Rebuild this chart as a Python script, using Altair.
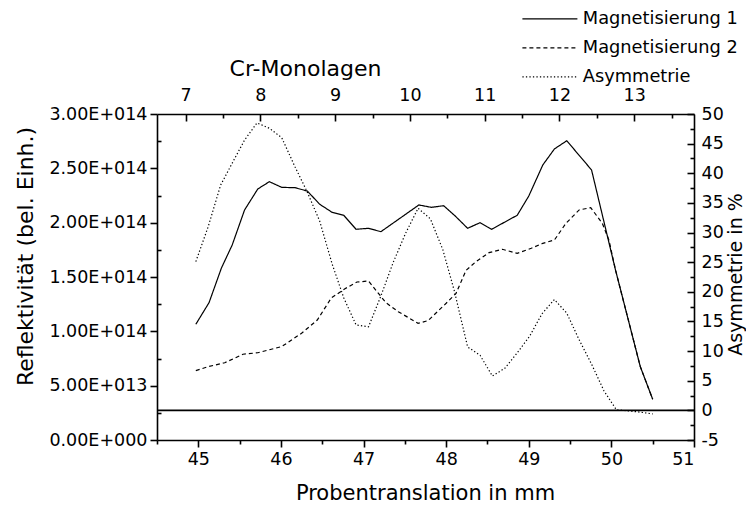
import altair as alt
import pandas as pd

FONT = "DejaVu Sans"
SERIES = ["Magnetisierung 1", "Magnetisierung 2", "Asymmetrie"]

# Magnetisierung 1 (left axis)
m1_mm = [44.97, 45.13, 45.28, 45.41, 45.56, 45.72, 45.86, 46.01, 46.17, 46.32, 46.47, 46.62,
         46.76, 46.91, 47.06, 47.21, 47.67, 47.82, 47.97, 48.11, 48.26, 48.41, 48.55, 48.86,
         49.00, 49.17, 49.31, 49.46, 49.76, 50.05, 50.35, 50.50]
m1_val = [1.065e14, 1.264e14, 1.583e14, 1.794e14, 2.117e14, 2.310e14, 2.377e14, 2.325e14,
          2.322e14, 2.291e14, 2.169e14, 2.095e14, 2.068e14, 1.939e14, 1.948e14, 1.917e14,
          2.163e14, 2.141e14, 2.156e14, 2.061e14, 1.948e14, 2.000e14, 1.939e14, 2.068e14,
          2.245e14, 2.531e14, 2.678e14, 2.754e14, 2.485e14, 1.564e14, 0.675e14, 0.375e14]

# Magnetisierung 2 (left axis)
m2_mm = [44.97, 45.12, 45.32, 45.54, 45.72, 46.01, 46.25, 46.44, 46.61, 46.77, 46.92, 47.06,
         47.27, 47.42, 47.66, 47.78, 48.00, 48.12, 48.24, 48.36, 48.52, 48.68, 48.86, 49.03,
         49.17, 49.31, 49.45, 49.61, 49.75, 49.89, 49.97, 50.05, 50.35, 50.50]
m2_val = [0.638e14, 0.675e14, 0.711e14, 0.789e14, 0.803e14, 0.860e14, 0.982e14, 1.104e14,
          1.307e14, 1.390e14, 1.454e14, 1.463e14, 1.264e14, 1.181e14, 1.074e14, 1.098e14,
          1.258e14, 1.350e14, 1.560e14, 1.641e14, 1.724e14, 1.755e14, 1.718e14, 1.764e14,
          1.810e14, 1.840e14, 1.994e14, 2.117e14, 2.138e14, 1.994e14, 1.840e14, 1.564e14,
          0.675e14, 0.375e14]

# Asymmetrie in % (right axis)
as_mm = [44.97, 45.12, 45.27, 45.41, 45.56, 45.71, 45.86, 46.01, 46.17, 46.32, 46.47, 46.62,
         46.76, 46.91, 47.06, 47.21, 47.36, 47.51, 47.66, 47.81, 47.96, 48.10, 48.26, 48.41,
         48.56, 48.71, 48.86, 49.01, 49.16, 49.31, 49.46, 49.61, 49.76, 49.91, 50.06, 50.21,
         50.35, 50.50]
as_val = [25.1, 31.0, 38.0, 41.7, 45.6, 48.5, 47.6, 46.0, 41.1, 36.8, 31.9, 24.7,
          19.0, 14.4, 14.1, 19.3, 25.0, 29.9, 34.1, 32.3, 27.1, 20.1, 10.7, 9.3,
          5.8, 7.1, 9.7, 12.5, 16.3, 18.7, 16.4, 11.9, 7.8, 3.3, 0.1, -0.1,
          -0.3, -0.6]

bottom_major = [45, 46, 47, 48, 49, 50, 51]
bottom_minor = [44.5, 45.5, 46.5, 47.5, 48.5, 49.5, 50.5]
left_major = [0, 5e13, 1e14, 1.5e14, 2e14, 2.5e14, 3e14]
left_minor = [2.5e13, 7.5e13, 1.25e14, 1.75e14, 2.25e14, 2.75e14]
right_major = [-5, 0, 5, 10, 15, 20, 25, 30, 35, 40, 45, 50]
right_minor = [-2.5, 2.5, 7.5, 12.5, 17.5, 22.5, 27.5, 32.5, 37.5, 42.5, 47.5]
top_major = [7, 8, 9, 10, 11, 12, 13]
top_minor = [7.5, 8.5, 9.5, 10.5, 11.5, 12.5, 13.5]

rows = []
for name, xs_, ys_ in [(SERIES[0], m1_mm, m1_val), (SERIES[1], m2_mm, m2_val),
                       (SERIES[2], as_mm, as_val)]:
    for a, b in zip(xs_, ys_):
        rows.append({"mm": a, "value": b, "series": name})
df = pd.DataFrame(rows)
refl = df[df.series != "Asymmetrie"]
asym = df[df.series == "Asymmetrie"]
tk = pd.DataFrame({"a": [0.0]})
zero = pd.DataFrame({"z": [0.0]})

xs = alt.Scale(domain=[44.5, 51], nice=False, zero=False)
yl = alt.Scale(domain=[0, 3e14], nice=False, zero=False)
yr = alt.Scale(domain=[-5, 50], nice=False, zero=False)
xt = alt.Scale(domain=[6.617, 13.8], nice=False, zero=False)
dash = alt.Scale(domain=SERIES, range=[[1, 0], [4, 3], [1.3, 2.2]])

TICK_FS = 17.5
TITLE_FS = 21
LW = 1.6

# long horizontal line symbol: path spans 5x the nominal symbol box
legend = alt.Legend(
    title=None, orient="none", legendX=384, legendY=-104, symbolType="M-5,0H5",
    symbolSize=121, symbolStrokeWidth=1.2, symbolStrokeColor="black",
    symbolFillColor="transparent",
    labelFont=FONT, labelFontSize=17.8, labelColor="black", labelOffset=24,
    rowPadding=10, padding=0, labelLimit=300,
)

lines = alt.Chart(refl).mark_line(color="black", strokeWidth=1.2).encode(
    x=alt.X("mm:Q", scale=xs, axis=alt.Axis(
        orient="bottom", values=bottom_major, format="d", tickSize=7, tickWidth=LW,
        domainWidth=LW, labelPadding=3, title="Probentranslation in mm",
        titleX=268, titleY=53, titleAlign="center", titleBaseline="middle")),
    y=alt.Y("value:Q", scale=yl, axis=alt.Axis(
        orient="left", values=left_major, tickSize=7, tickWidth=LW, domainWidth=LW,
        labelPadding=3,
        labelExpr="datum.value == 0 ? '0.00E+000' : replace(upper(format(datum.value, '.2e')), 'E+', 'E+0')",
        title="Reflektivität (bel. Einh.)", titleAngle=270, titleX=-132, titleY=142,
        titleFontSize=22, titleAlign="center", titleBaseline="middle")),
    strokeDash=alt.StrokeDash("series:N", scale=dash, legend=legend),
)

asym_line = alt.Chart(asym).mark_line(color="black", strokeWidth=1.2).encode(
    x=alt.X("mm:Q", scale=xs, axis=None),
    y=alt.Y("value:Q", scale=yr, axis=alt.Axis(
        orient="right", values=right_major, ticks=False, tickSize=0, domainWidth=LW,
        labelPadding=7, labelExpr="'' + datum.value",
        title="Asymmetrie in %", titleAngle=270, titleX=41, titleY=160,
        titleFontSize=19, titleAlign="center", titleBaseline="middle")),
    strokeDash=alt.StrokeDash("series:N", scale=dash, legend=legend),
)

zero_rule = alt.Chart(zero).mark_rule(color="black", strokeWidth=1.8).encode(
    y=alt.Y("z:Q", scale=yr, axis=None)
)


def tick_axis(orient, values, size, offset=0):
    return alt.Axis(orient=orient, values=values, tickSize=size, offset=offset,
                    tickWidth=LW, domain=False, labels=False, title=None, grid=False)


def tick_layer(xscale, xaxis, yscale=None, yaxis=None):
    enc = {"x": alt.X("a:Q", scale=xscale, axis=xaxis)}
    if yscale is not None:
        enc["y"] = alt.Y("a:Q", scale=yscale, axis=yaxis)
    return alt.Chart(tk).mark_point(opacity=0).encode(**enc)


layer_d = tick_layer(xs, tick_axis("bottom", bottom_minor, 4),
                     yr, tick_axis("right", right_major, 7, -7))
layer_e = tick_layer(
    xt, alt.Axis(orient="top", values=top_major, ticks=False, tickSize=0, domainWidth=LW,
                 labelPadding=10, format="d", title="Cr-Monolagen", titleX=148, titleY=-46,
                 titleFontSize=22, titleAlign="center", titleBaseline="middle"),
    yr, tick_axis("right", right_minor, 4, -4))
layer_f = tick_layer(xt, tick_axis("top", top_major, 7, -7),
                     yl, tick_axis("left", left_minor, 4, -4))
layer_g = tick_layer(xt, tick_axis("top", top_minor, 4, -4))

chart = alt.layer(lines, asym_line, zero_rule, layer_d, layer_e, layer_f, layer_g).resolve_scale(
    x="independent", y="independent", strokeDash="shared"
).properties(
    width=537, height=326,
    padding={"left": 149, "top": 106, "right": 52, "bottom": 64},
    autosize=alt.AutoSizeParams(type="none"),
    background="white",
).configure_view(stroke=None).configure_axis(
    labelFont=FONT, titleFont=FONT, labelFontSize=TICK_FS, titleFontSize=TITLE_FS,
    labelColor="black", titleColor="black", domainColor="black", tickColor="black",
    titleFontWeight="normal", grid=False,
)

chart.save("out.html", embed_options={"renderer": "svg", "actions": False})
